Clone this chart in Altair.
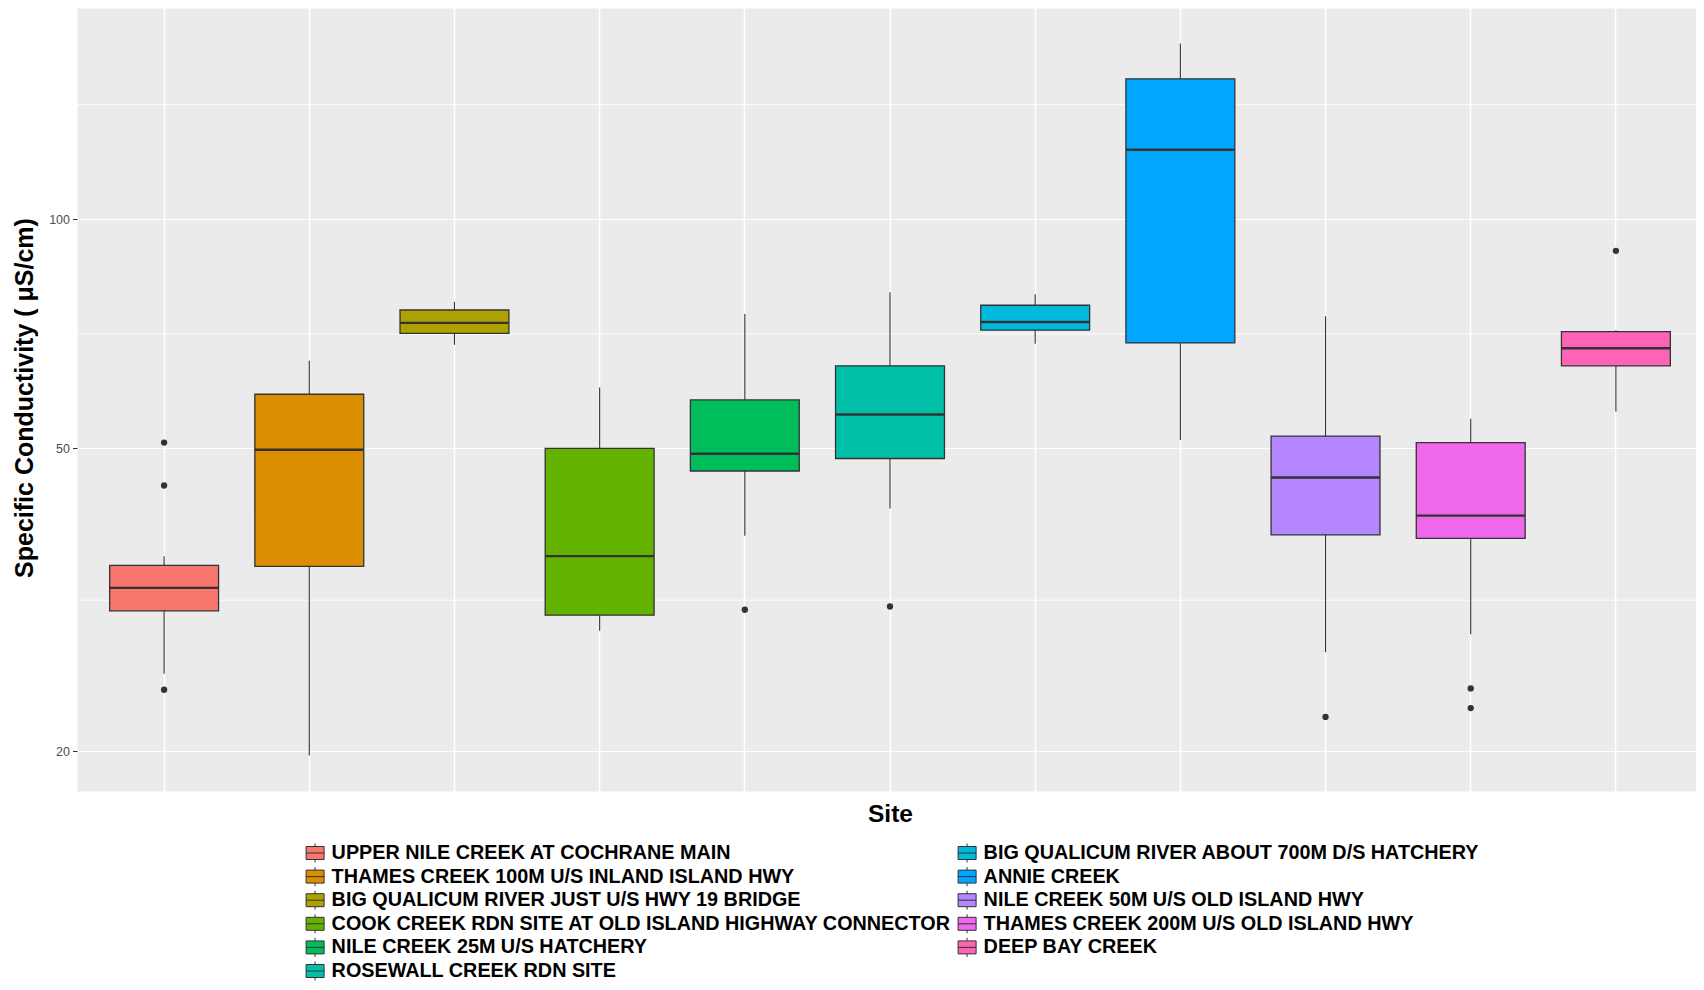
import math
import altair as alt
import pandas as pd

sites = [
    "UPPER NILE CREEK AT COCHRANE MAIN",
    "THAMES CREEK 100M U/S INLAND ISLAND HWY",
    "BIG QUALICUM RIVER JUST U/S HWY 19 BRIDGE",
    "COOK CREEK RDN SITE AT OLD ISLAND HIGHWAY CONNECTOR",
    "NILE CREEK 25M U/S HATCHERY",
    "ROSEWALL CREEK RDN SITE",
    "BIG QUALICUM RIVER ABOUT 700M D/S HATCHERY",
    "ANNIE CREEK",
    "NILE CREEK 50M U/S OLD ISLAND HWY",
    "THAMES CREEK 200M U/S OLD ISLAND HWY",
    "DEEP BAY CREEK",
]
colors = ["#F8766D", "#DB8E00", "#AEA200", "#64B200", "#00BD5C", "#00C1A7",
          "#00BADE", "#00A6FF", "#B385FF", "#EF67EB", "#FF63B6"]

whisker_low = [25.3, 19.76, 68.4, 28.8, 38.4, 41.7, 68.6, 51.3, 27.0, 28.5, 55.9]
q1 = [30.6, 35.0, 70.8, 30.2, 46.7, 48.5, 71.5, 68.8, 38.5, 38.1, 64.2]
median = [32.8, 49.8, 73.1, 36.1, 49.2, 55.4, 73.3, 123.4, 45.8, 40.8, 67.7]
q3 = [35.1, 58.9, 76.0, 50.0, 57.9, 64.2, 77.1, 152.9, 51.9, 50.9, 71.2]
whisker_high = [36.1, 65.2, 77.9, 60.1, 75.1, 80.2, 79.7, 170.1, 74.6, 54.7, 71.5]
outliers = [[50.9, 44.7, 24.1], [], [], [], [30.7], [31.0], [], [], [22.2],
            [24.2, 22.8], [90.9]]

y_breaks = [20, 50, 100]
y_minor_breaks = [31.6, 70.7, 141.4]

box_df = pd.DataFrame({
    "site": sites, "lo": whisker_low, "q1": q1, "med": median,
    "q3": q3, "hi": whisker_high,
})
out_df = pd.DataFrame(
    [{"site": s, "value": v} for s, vals in zip(sites, outliers) for v in vals]
)
minor_df = pd.DataFrame({"value": y_minor_breaks})

# ggplot-style 5% expansion of the log range
all_vals = whisker_low + whisker_high + [v for vals in outliers for v in vals]
lmin, lmax = math.log10(min(all_vals)), math.log10(max(all_vals))
ext = 0.05 * (lmax - lmin)
y_domain = [10 ** (lmin - ext), 10 ** (lmax + ext)]

PLOT_W, PLOT_H = 1626, 783
FONT = "Liberation Sans"

x_scale = alt.Scale(domain=sites, paddingInner=0.25, paddingOuter=0.225)
y_scale = alt.Scale(type="log", domain=y_domain, nice=False)

x_axis = alt.Axis(
    title="Site", labels=False, ticks=False, domain=False, grid=True,
    bandPosition=0.5, gridColor="white", gridWidth=1.5,
    titleFont=FONT, titleFontSize=24.5, titleFontWeight="bold",
    titleColor="black", titleX=PLOT_W / 2, titleY=30.6,
    titleBaseline="alphabetic",
)
y_axis = alt.Axis(
    values=y_breaks, format="d", title="Specific Conductivity ( \u03bcS/cm)",
    grid=True, gridColor="white", gridWidth=1.2, domain=False,
    tickColor="#333333", tickSize=4.5, tickWidth=1,
    labelColor="#4D4D4D", labelFontSize=12.5, labelFont=FONT, labelPadding=3,
    titleFont=FONT, titleFontSize=25, titleFontWeight="bold",
    titleColor="black", titleX=-45, titleY=389.5, titleAngle=270,
    titleBaseline="alphabetic",
)

symbol_path = ("M-0.9,-0.65L0.9,-0.65L0.9,0.65L-0.9,0.65Z "
               "M-0.9,0L0.9,0 M0,-0.65L0,-0.95 M0,0.65L0,0.95")

legend = alt.Legend(
    title=None, orient="none", legendX=227.6, legendY=834.5,
    columns=2, columnPadding=4, rowPadding=0.6, padding=0,
    symbolType=symbol_path, symbolSize=400, symbolStrokeColor="#333333",
    symbolStrokeWidth=1, symbolOpacity=1,
    labelFont=FONT, labelFontSize=19.8, labelFontWeight="bold",
    labelColor="black", labelOffset=6, labelLimit=900,
)

base = alt.Chart(box_df)

minor = alt.Chart(minor_df).mark_rule(color="white", strokeWidth=0.9).encode(
    y=alt.Y("value:Q", scale=y_scale, axis=y_axis),
)

whiskers = base.mark_rule(color="#333333", strokeWidth=1.1).encode(
    x=alt.X("site:N", scale=x_scale, axis=x_axis),
    y=alt.Y("lo:Q", scale=y_scale, axis=y_axis),
    y2="hi:Q",
)

boxes = base.mark_bar(stroke="#333333", strokeWidth=1.3, opacity=1).encode(
    x=alt.X("site:N", scale=x_scale, axis=x_axis),
    y=alt.Y("q1:Q", scale=y_scale, axis=y_axis),
    y2="q3:Q",
    color=alt.Color("site:N",
                    scale=alt.Scale(domain=sites, range=colors),
                    legend=legend),
)

medians = base.mark_tick(orient="horizontal", size=0.75 * PLOT_W / 11.2,
                         thickness=2.4, color="#333333", opacity=1).encode(
    x=alt.X("site:N", scale=x_scale, axis=x_axis),
    y=alt.Y("med:Q", scale=y_scale, axis=y_axis),
)

points = alt.Chart(out_df).mark_circle(size=40, color="#333333", opacity=1).encode(
    x=alt.X("site:N", scale=x_scale, axis=x_axis),
    y=alt.Y("value:Q", scale=y_scale, axis=y_axis),
)

chart = alt.layer(minor, whiskers, boxes, medians, points).properties(
    width=PLOT_W, height=PLOT_H,
    autosize=alt.AutoSizeParams(type="none"),
    padding={"left": 69, "top": 0, "right": -7, "bottom": 191},
).configure(
    font=FONT,
).configure_view(
    fill="#EBEBEB", stroke="transparent",
)

chart.save("out.html", embed_options={"renderer": "svg", "actions": False})
